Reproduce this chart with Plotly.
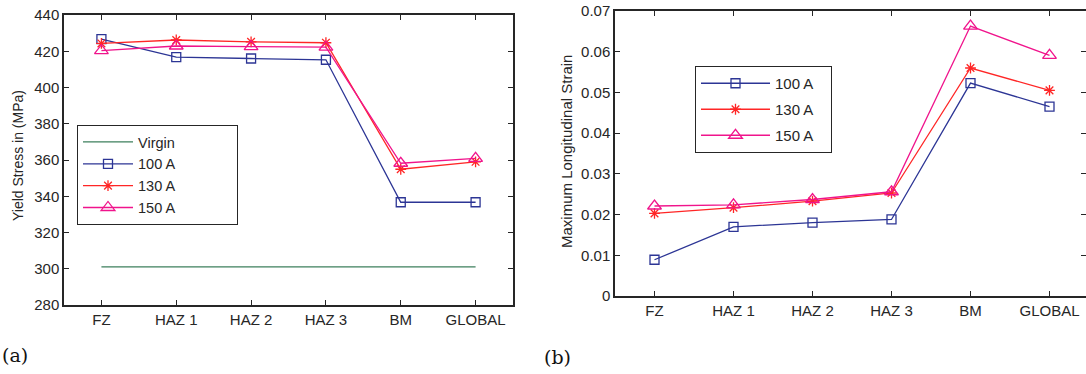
import plotly.graph_objects as go

categories = ["FZ", "HAZ 1", "HAZ 2", "HAZ 3", "BM", "GLOBAL"]

# (a) Yield stress (MPa)
stress_virgin = [301, 301, 301, 301, 301, 301]
stress_100 = [426.7, 416.8, 416.0, 415.3, 336.7, 336.7]
stress_130 = [424.3, 426.2, 425.2, 424.7, 354.9, 359.0]
stress_150 = [420.3, 422.9, 422.6, 422.3, 358.2, 360.9]

# (b) Maximum longitudinal strain
strain_100 = [0.0089, 0.0170, 0.0180, 0.0188, 0.0523, 0.0465]
strain_130 = [0.0203, 0.0217, 0.0233, 0.0253, 0.0560, 0.0505]
strain_150 = [0.0221, 0.0224, 0.0237, 0.0256, 0.0663, 0.0591]

legend_a = ["Virgin", "100 A", "130 A", "150 A"]
legend_b = ["100 A", "130 A", "150 A"]

W, H = 1086, 374
C_GREEN = "#3d7f5c"
C_BLUE = "#2c3595"
C_RED = "#ff2626"
C_MAG = "#f0148c"
AX = "#262626"
FONT = "Liberation Sans, Arial, sans-serif"
NB = "\u00a0"

fig = go.Figure()

def add(x, y, name, color, symbol, size, xa, ya, legend, group=None, mode="lines+markers"):
    fig.add_trace(go.Scatter(
        x=x, y=y, name=name, mode=mode, xaxis=xa, yaxis=ya, legend=legend,
        legendgroup=group,
        line=dict(color=color, width=1.3),
        marker=dict(symbol=symbol, size=size, color=color,
                    line=dict(color=color, width=1.3)),
    ))

add(categories, stress_virgin, legend_a[0] + NB * 14, C_GREEN, "circle", 1, "x", "y", "legend", mode="lines")
add(categories, stress_100, legend_a[1], C_BLUE, "square-open", 9, "x", "y", "legend")
add(categories, stress_130, legend_a[2], C_RED, "asterisk-open", 9, "x", "y", "legend")
add(categories, stress_150, legend_a[3], C_MAG, "triangle-up-open", 12, "x", "y", "legend")

add(categories, strain_100, legend_b[0] + NB * 3, C_BLUE, "square-open", 9, "x2", "y2", "legend2", "b1")
add(categories, strain_130, legend_b[1], C_RED, "asterisk-open", 9, "x2", "y2", "legend2", "b2")
add(categories, strain_150, legend_b[2], C_MAG, "triangle-up-open", 12, "x2", "y2", "legend2", "b3")

axis_common = dict(
    showline=True, linecolor=AX, linewidth=1.5, mirror="ticks",
    ticks="inside", ticklen=5, tickcolor=AX, tickwidth=1,
    showgrid=False, zeroline=False,
    tickfont=dict(family=FONT, size=15, color=AX),
    automargin=False, fixedrange=True,
)

# plot-area pixel geometry
L1, R1, T1, B1 = 64, 513, 15, 305
L2, R2, T2, B2 = 615, 1086, 11, 296
unit2 = 79.0

fig.update_layout(
    width=W, height=H,
    margin=dict(l=0, r=0, t=0, b=0),
    paper_bgcolor="white", plot_bgcolor="white",
    font=dict(family=FONT, size=15, color=AX),
    xaxis=dict(domain=[L1 / W, R1 / W], anchor="y", type="category",
               categoryorder="array", categoryarray=categories,
               range=[-0.5, 5.5], **axis_common),
    yaxis=dict(domain=[1 - B1 / H, 1 - T1 / H], anchor="x",
               range=[280, 440], dtick=20, tick0=280, **axis_common),
    xaxis2=dict(domain=[L2 / W, R2 / W], anchor="y2", type="category",
                categoryorder="array", categoryarray=categories,
                range=[-0.5, -0.5 + (R2 - L2) / unit2], **axis_common),
    yaxis2=dict(domain=[1 - B2 / H, 1 - T2 / H], anchor="x2",
                range=[0, 0.07], dtick=0.01, tick0=0, **axis_common),
    legend=dict(
        x=77 / W, y=1 - 125 / H, xanchor="left", yanchor="top",
        bgcolor="white", bordercolor=AX, borderwidth=1,
        font=dict(family=FONT, size=14.5, color=AX),
        traceorder="normal", itemwidth=50,
    ),
    legend2=dict(
        x=695 / W, y=1 - 66 / H, xanchor="left", yanchor="top",
        bgcolor="white", bordercolor=AX, borderwidth=1,
        font=dict(family=FONT, size=15, color=AX),
        tracegroupgap=3.5, traceorder="grouped", itemwidth=69,
    ),
    showlegend=True,
)

annotations = [
    dict(text="Yield Stress in (MPa)", x=18 / W, y=1 - 156 / H, xref="paper", yref="paper",
         textangle=-90, showarrow=False, xanchor="center", yanchor="middle",
         font=dict(family=FONT, size=14, color=AX)),
    dict(text="Maximum Longitudinal Strain", x=566 / W, y=1 - 152 / H, xref="paper", yref="paper",
         textangle=-90, showarrow=False, xanchor="center", yanchor="middle",
         font=dict(family=FONT, size=15, color=AX)),
    dict(text="(a)", x=0, y=1 - 355 / H, xref="paper", yref="paper", showarrow=False,
         xanchor="left", yanchor="middle",
         font=dict(family="DejaVu Serif, Liberation Serif, serif", size=19, color="#111111")),
    dict(text="(b)", x=542 / W, y=1 - 357 / H, xref="paper", yref="paper", showarrow=False,
         xanchor="left", yanchor="middle",
         font=dict(family="DejaVu Serif, Liberation Serif, serif", size=19, color="#111111")),
]
fig.update_layout(annotations=annotations)

fig.write_html("out.html")
